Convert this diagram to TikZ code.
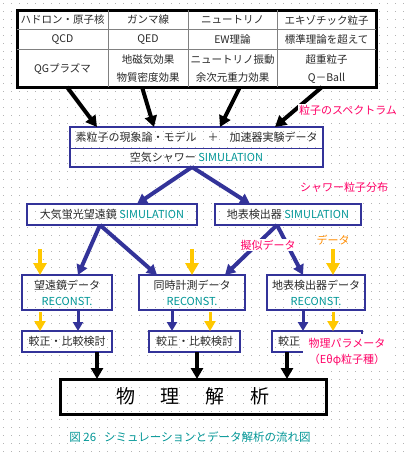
\documentclass[tikz,border=0pt]{standalone}
\usepackage{fontspec}
\setmainfont{Noto Sans CJK JP}
\usetikzlibrary{arrows.meta,calc}
\definecolor{navy}{RGB}{51,51,153}
\definecolor{tealc}{RGB}{0,150,150}
\definecolor{mag}{RGB}{255,0,102}
\definecolor{orng}{RGB}{255,140,0}
\definecolor{yel}{RGB}{255,200,0}
\definecolor{dotc}{RGB}{180,180,180}
\definecolor{txt}{RGB}{40,40,40}
\tikzset{
  bbox/.style={draw=navy,line width=2.5pt,outer sep=0pt,inner sep=0pt,text=txt,font=\fontsize{11}{14}\selectfont,align=center},
  cell/.style={text=txt,font=\fontsize{10.5}{18}\selectfont,align=center,inner sep=0pt},
  blk/.style={line width=4pt,-{Triangle[width=12pt,length=11pt]}},
  nav/.style={navy,line width=4pt,-{Triangle[width=11pt,length=10pt]}},
  navs/.style={navy,line width=3pt,-{Triangle[width=10pt,length=9pt]}},
  yar/.style={yel,line width=4pt,-{Triangle[width=13pt,length=12pt]}},
  lab/.style={text=mag,font=\fontsize{11}{14}\selectfont,inner sep=1pt,align=center},
}
\newcommand{\sm}[1]{\textcolor{tealc}{#1}}
\begin{document}
\begin{tikzpicture}[x=1pt,y=-1pt]
\useasboundingbox (0,0) rectangle (407,455);
% dotted background
\foreach \i in {0,...,50}{\foreach \j in {0,...,56}{\fill[dotc] (2.5+8*\i,2.5+8*\j) rectangle ++(1,1);}}
% table
\node[draw,line width=3pt,fill=white,minimum width=359pt,minimum height=77pt,outer sep=0pt] (tab) at (196.5,48.5) {};
\draw[gray,line width=1pt] (17,29.5) -- (376,29.5) (17,49) -- (376,49)
  (108,10) -- (108,87) (188,10) -- (188,87) (277,10) -- (277,87);
\node[cell] (c11) at (62.5,20) {ハドロン・原子核};
\node[cell] (c12) at (148,20) {ガンマ線};
\node[cell] (c13) at (232.5,20) {ニュートリノ};
\node[cell] (c14) at (326.5,20) {エキゾチック粒子};
\node[cell] (c21) at (62.5,39.5) {QCD};
\node[cell] (c22) at (148,39.5) {QED};
\node[cell] (c23) at (232.5,39.5) {EW理論};
\node[cell] (c24) at (326.5,39.5) {標準理論を超えて};
\node[cell] (c31) at (62.5,69) {QGプラズマ};
\node[cell] (c32) at (148,69) {地磁気効果\\物質密度効果};
\node[cell] (c33) at (232.5,69) {ニュートリノ振動\\余次元重力効果};
\node[cell] (c34) at (326.5,69) {超重粒子\\Q－Ball};
% box1
\node[bbox,minimum width=253pt,minimum height=40pt] (phen) at (196.5,147) {};
\draw[navy,line width=1pt] (70,148) -- (323,148);
\node[cell,font=\fontsize{11}{14}\selectfont] (p1) at (196.5,137.5) {素粒子の現象論・モデル　＋　加速器実験データ};
\node[cell,font=\fontsize{11}{14}\selectfont] (p2) at (196.5,157.5) {空気シャワー \sm{SIMULATION}};
% table arrows
\draw[blk] ($(tab.south west)+(50,0)$) -- ($(phen.north west)+(27,0)$);
\draw[blk] ($(tab.south west)+(125,0)$) -- ($(phen.north west)+(84,0)$);
\draw[blk] ($(tab.south west)+(223,0)$) -- ($(phen.north west)+(150,0)$);
\draw[blk] ($(tab.south west)+(305,0)$) -- ($(phen.north west)+(205,0)$);
\node[lab,fill=white] (lspec) at (348,110) {粒子のスペクトラム};
% simulation boxes
\node[bbox,minimum width=170pt,minimum height=21pt] (simL) at (112,214.5) {大気蛍光望遠鏡 \sm{SIMULATION}};
\node[bbox,minimum width=146pt,minimum height=21pt] (simR) at (288,214.5) {地表検出器 \sm{SIMULATION}};
\draw[nav] ($(phen.south)+(-4.5,0)$) -- ($(simL.north)+(25,0)$);
\draw[nav] ($(phen.south)+(-4.5,0)$) -- ($(simR.north)+(-38,0)$);
\node[lab] (lshow) at (344,187) {シャワー粒子分布};
% data boxes
\node[bbox,minimum width=90pt,minimum height=35pt,font=\fontsize{11}{16}\selectfont] (telD) at (67,292.5) {望遠鏡データ\\\sm{RECONST.}};
\node[bbox,minimum width=106pt,minimum height=35pt,font=\fontsize{11}{16}\selectfont] (simD) at (192,292.5) {同時計測データ\\\sm{RECONST.}};
\node[bbox,minimum width=98pt,minimum height=35pt,font=\fontsize{11}{16}\selectfont] (surD) at (316,292.5) {地表検出器データ\\\sm{RECONST.}};
\draw[nav] ($(simL.south)+(-12,0)$) -- ($(telD.north)+(11,0)$);
\draw[nav] ($(simL.south)+(-12,0)$) -- ($(simD.north)+(-35,0)$);
\draw[nav] ($(simR.south)+(-11,0)$) -- ($(simD.north)+(33,0)$);
\draw[nav] ($(simR.south)+(-11,0)$) -- ($(surD.north)+(-13,0)$);
\node[lab,fill=white] (lgiji) at (268,245) {擬似データ};
\node[lab,text=orng] (ldata) at (333,240) {データ};
% yellow input arrows
\coordinate (y1) at (40,249);
\coordinate (y2) at (192,249);
\coordinate (y3) at (333,249);
\draw[yar] (y1) -- ($(telD.north)+(-27,0)$);
\draw[yar] (y2) -- (simD.north);
\draw[yar] (y3) -- ($(surD.north)+(17,0)$);
% calibration boxes
\node[bbox,minimum width=90pt,minimum height=21pt] (cal1) at (67,341.5) {較正・比較検討};
\node[bbox,minimum width=91pt,minimum height=21pt] (cal2) at (194.5,341.5) {較正・比較検討};
\node[bbox,minimum width=90pt,minimum height=21pt] (cal3) at (317,341.5) {};
\node[cell,font=\fontsize{11}{14}\selectfont,anchor=west] (cal3t) at (278,341.5) {較正};
\draw[navs] ($(telD.south)+(11,0)$) -- ($(cal1.north)+(11,0)$);
\draw[navs] ($(simD.south)+(-20,0)$) -- ($(cal2.north)+(-22.5,0)$);
\draw[navs] ($(surD.south)+(-13,0)$) -- ($(cal3.north)+(-14,0)$);
\draw[yar,line width=3pt,-{Triangle[width=11pt,length=10pt]}] ($(telD.south)+(-27,2)$) -- ($(cal1.north)+(-27,0)$);
\draw[yar,line width=3pt,-{Triangle[width=11pt,length=10pt]}] ($(simD.south)+(18,2)$) -- ($(cal2.north)+(15.5,0)$);
\draw[yar,line width=3pt,-{Triangle[width=11pt,length=10pt]}] ($(surD.south)+(17,2)$) -- ($(cal3.north)+(16,0)$);
\node[lab,fill=white,minimum width=88pt,minimum height=35pt,anchor=north,font=\fontsize{11}{16}\selectfont] (lphys) at (347,334) {物理パラメータ\\（Eθφ粒子種）};
% final box
\node[draw,line width=3pt,outer sep=0pt,minimum width=266pt,minimum height=35pt,font=\fontsize{19}{22}\selectfont] (fin) at (193,396.5) {物\hspace{26pt}理\hspace{26pt}解\hspace{26pt}析};
\draw[blk] ($(cal1.south)+(30,0)$) -- ($(fin.north)+(-96,0)$);
\draw[blk] ($(cal2.south)+(2.5,0)$) -- ($(fin.north)+(4,0)$);
\draw[blk] ($(cal3.south)+(-30,0)$) -- ($(fin.north)+(94,0)$);
% caption
\node[text=tealc,font=\fontsize{11.5}{14}\selectfont,inner sep=0pt] (cap) at (190,437) {図 26\hspace{8pt}シミュレーションとデータ解析の流れ図};
\end{tikzpicture}
\end{document}
